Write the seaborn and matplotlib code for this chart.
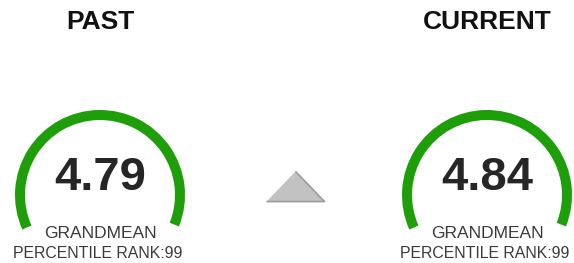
import matplotlib.pyplot as plt
import seaborn as sns
from matplotlib.patches import Wedge

# gauge data
periods = ["PAST", "CURRENT"]
grand_means = [4.79, 4.84]
pct_ranks = [99, 99]
trend = "up"

sns.set_theme(style="white")
plt.rcParams["font.family"] = ["Liberation Sans", "DejaVu Sans"]

fig = plt.figure(figsize=(5.74, 2.63), dpi=100)
ax = fig.add_axes([0, 0, 1, 1])
ax.set_xlim(0, 574)
ax.set_ylim(0, 263)
ax.set_aspect("equal")
ax.axis("off")

green = "#1e9e08"
centers_x = [100, 487]
cy = 263 - 195
r_out, ring = 85, 10
start, end = -24, 204  # gauge sweep in degrees

for cx, name, val, rank in zip(centers_x, periods, grand_means, pct_ranks):
    sweep = (end - start) * min(rank, 100) / 100
    ax.add_patch(Wedge((cx, cy), r_out, end - sweep, end, width=ring,
                       facecolor=green, edgecolor="none"))
    ax.text(cx, 263 - 22, name, ha="center", va="center", fontsize=19,
            fontweight="bold", color="#111111")
    ax.text(cx, 263 - 178, f"{val:.2f}", ha="center", va="center",
            fontsize=34, fontweight="bold", color="#262626")
    ax.text(cx, 263 - 234, "GRANDMEAN", ha="center", va="center",
            fontsize=12.5, color="#3a3a3a")
    ax.text(cx - 2, 263 - 253, f"PERCENTILE RANK:{rank}", ha="center",
            va="center", fontsize=11.4, color="#3a3a3a")

# trend arrow between the gauges
tri = [(-1, -0.52), (1, -0.52), (0, 0.52)] if trend == "up" else [(-1, 0.52), (1, 0.52), (0, -0.52)]
sns.scatterplot(x=[sum(centers_x) / 2 + 1.5], y=[263 - 186], marker=tri, s=1745,
                color="#c2c2c2", edgecolor="#9c9c9c", linewidth=1.2, ax=ax,
                legend=False)
ax.set_xlim(0, 574)
ax.set_ylim(0, 263)
ax.axis("off")

fig.savefig("out.png", dpi=100, facecolor="white")
